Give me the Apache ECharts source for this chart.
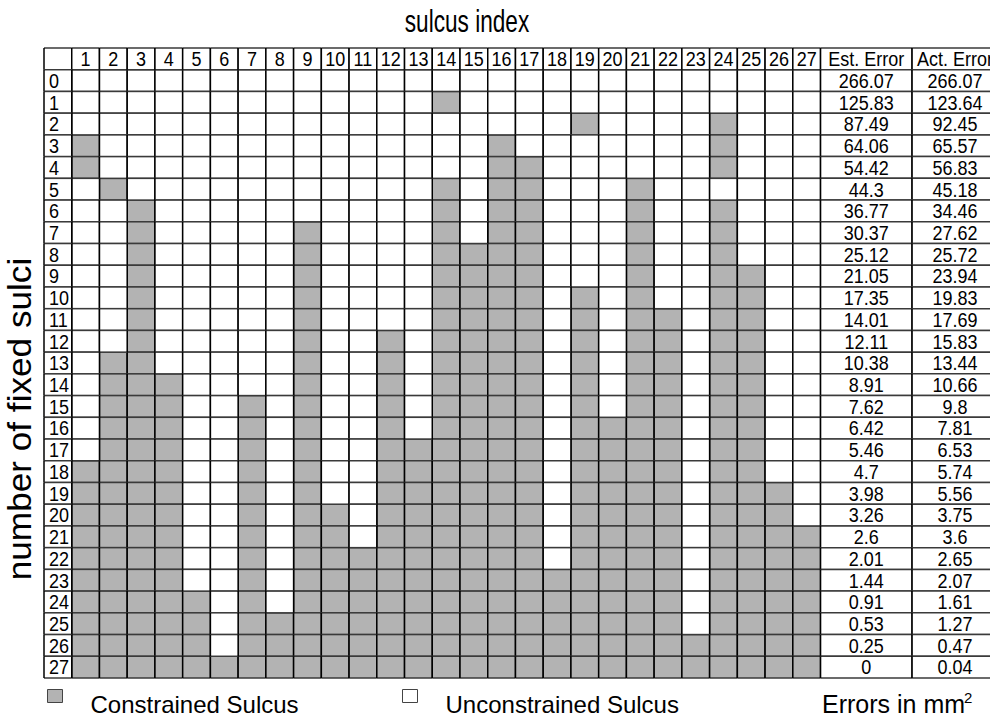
<!DOCTYPE html>
<html>
<head>
<meta charset="utf-8">
<script src="https://cdn.jsdelivr.net/npm/echarts@6/dist/echarts.min.js"></script>
<style>
html,body{margin:0;padding:0;background:#fff;}
#chart{width:990px;height:717px;}
</style>
</head>
<body>
<div id="chart"></div>
<script>
// ---------------- data ----------------
const sulcusLabels = ['1','2','3','4','5','6','7','8','9','10','11','12','13','14','15','16','17','18','19','20','21','22','23','24','25','26','27'];
const rowLabels = ['0','1','2','3','4','5','6','7','8','9','10','11','12','13','14','15','16','17','18','19','20','21','22','23','24','25','26','27'];
const errorHeaders = ['Est. Error', 'Act. Error'];
const estError = [266.07, 125.83, 87.49, 64.06, 54.42, 44.3, 36.77, 30.37, 25.12, 21.05, 17.35, 14.01, 12.11, 10.38, 8.91, 7.62, 6.42, 5.46, 4.7, 3.98, 3.26, 2.6, 2.01, 1.44, 0.91, 0.53, 0.25, 0];
const actError = [266.07, 123.64, 92.45, 65.57, 56.83, 45.18, 34.46, 27.62, 25.72, 23.94, 19.83, 17.69, 15.83, 13.44, 10.66, 9.8, 7.81, 6.53, 5.74, 5.56, 3.75, 3.6, 2.65, 2.07, 1.61, 1.27, 0.47, 0.04];
// constrained (fixed) sulci for each row (number of fixed sulci)
const constrainedByRow = [
  [],
  [14],
  [19,24],
  [1,16,24],
  [1,16,17,24],
  [2,14,16,17,21],
  [3,14,16,17,21,24],
  [3,9,14,16,17,21,24],
  [3,9,14,15,16,17,21,24],
  [3,9,14,15,16,17,21,24,25],
  [3,9,14,15,16,17,19,21,24,25],
  [3,9,14,15,16,17,19,21,22,24,25],
  [3,9,12,14,15,16,17,19,21,22,24,25],
  [2,3,9,12,14,15,16,17,19,21,22,24,25],
  [2,3,4,9,12,14,15,16,17,19,21,22,24,25],
  [2,3,4,7,9,12,14,15,16,17,19,21,22,24,25],
  [2,3,4,7,9,12,14,15,16,17,19,20,21,22,24,25],
  [2,3,4,7,9,12,13,14,15,16,17,19,20,21,22,24,25],
  [1,2,3,4,7,9,12,13,14,15,16,17,19,20,21,22,24,25],
  [1,2,3,4,7,9,12,13,14,15,16,17,19,20,21,22,24,25,26],
  [1,2,3,4,7,9,10,12,13,14,15,16,17,19,20,21,22,24,25,26],
  [1,2,3,4,7,9,10,12,13,14,15,16,17,19,20,21,22,24,25,26,27],
  [1,2,3,4,7,9,10,11,12,13,14,15,16,17,19,20,21,22,24,25,26,27],
  [1,2,3,4,7,9,10,11,12,13,14,15,16,17,18,19,20,21,22,24,25,26,27],
  [1,2,3,4,5,7,9,10,11,12,13,14,15,16,17,18,19,20,21,22,24,25,26,27],
  [1,2,3,4,5,7,8,9,10,11,12,13,14,15,16,17,18,19,20,21,22,24,25,26,27],
  [1,2,3,4,5,7,8,9,10,11,12,13,14,15,16,17,18,19,20,21,22,23,24,25,26,27],
  [1,2,3,4,5,6,7,8,9,10,11,12,13,14,15,16,17,18,19,20,21,22,23,24,25,26,27]
];

// ---------------- layout / style ----------------
const FONT = '"Liberation Sans", Arial, Helvetica, sans-serif';
const GRAY = '#b3b3b3';
const H_LINE = '#3a3a3a';
const V_LINE = '#000';
const LW = 1.5;
const CELL_FONT = 18;
const CELL_SCALE_Y = 1.1;
const LABEL_X = [-0.5, 0.5];
const EST_X = [27.5, 30.8];
const ACT_X = [30.8, 33.9];
// legend icon: a square drawn in the upper part of its box (sits above text centre)
const LEGEND_ICON = 'path://M0,0L15,0L15,13L0,13Z M0,30L0.01,30';

// build series data
const constrainedCells = [];
const unconstrainedCells = [];
rowLabels.forEach(function (lab, r) {
  const set = constrainedByRow[r];
  sulcusLabels.forEach(function (s, i) {
    const idx = i + 1;
    (set.indexOf(idx) >= 0 ? constrainedCells : unconstrainedCells).push([idx, r]);
  });
});

const textCells = [];
const textMeta = [];
function addText(x0, x1, y, text, align) {
  textCells.push([x0, x1, y]);
  textMeta.push({ text: text, align: align });
}
addText(LABEL_X[0], LABEL_X[1], -1, '', 'left');
sulcusLabels.forEach(function (s, i) { addText(i + 0.5, i + 1.5, -1, s, 'center'); });
addText(EST_X[0], EST_X[1], -1, errorHeaders[0], 'center');
addText(ACT_X[0], ACT_X[1], -1, errorHeaders[1], 'center');
rowLabels.forEach(function (lab, r) {
  addText(LABEL_X[0], LABEL_X[1], r, lab, 'left');
  addText(EST_X[0], EST_X[1], r, String(estError[r]), 'center');
  addText(ACT_X[0], ACT_X[1], r, String(actError[r]), 'center');
});

function cellGroup(api, x0, x1, y, fill, text, align) {
  const a = api.coord([x0, y - 0.5]);
  const b = api.coord([x1, y + 0.5]);
  const L = Math.min(a[0], b[0]), R = Math.max(a[0], b[0]);
  const T = Math.min(a[1], b[1]), B = Math.max(a[1], b[1]);
  const children = [
    { type: 'rect', shape: { x: L, y: T, width: R - L, height: B - T }, style: { fill: fill } },
    { type: 'line', shape: { x1: L, y1: T, x2: R, y2: T }, style: { stroke: H_LINE, lineWidth: LW } },
    { type: 'line', shape: { x1: L, y1: B, x2: R, y2: B }, style: { stroke: H_LINE, lineWidth: LW } },
    { type: 'line', shape: { x1: L, y1: T, x2: L, y2: B }, style: { stroke: V_LINE, lineWidth: LW } },
    { type: 'line', shape: { x1: R, y1: T, x2: R, y2: B }, style: { stroke: V_LINE, lineWidth: LW } }
  ];
  if (text) {
    children.push({
      type: 'text',
      x: align === 'left' ? L + 5 : (L + R) / 2,
      y: (T + B) / 2 + 0.5,
      scaleY: CELL_SCALE_Y,
      style: {
        text: text,
        x: 0,
        y: 0,
        align: align,
        verticalAlign: 'middle',
        fill: '#000',
        fontSize: CELL_FONT,
        fontFamily: FONT
      }
    });
  }
  return { type: 'group', children: children };
}

const legendCommon = {
  top: 689,
  padding: 0,
  itemWidth: 15,
  itemHeight: 30,
  selectedMode: false,
  textStyle: { fontSize: 24, fontFamily: FONT, color: '#000', padding: [0, 0, 0, 23] }
};

const chart = echarts.init(document.getElementById('chart'), null, { renderer: 'svg' });
chart.setOption({
  animation: false,
  backgroundColor: '#fff',
  grid: { left: 44, right: 0, top: 48, bottom: 39 },
  xAxis: { type: 'value', min: -0.5, max: 33.61, show: false },
  yAxis: { type: 'value', min: -1.5, max: 27.5, inverse: true, show: false },
  legend: [
    Object.assign({}, legendCommon, {
      left: 47,
      data: [{ name: 'Constrained Sulcus', icon: LEGEND_ICON, itemStyle: { color: GRAY, borderColor: '#444', borderWidth: 1 } }]
    }),
    Object.assign({}, legendCommon, {
      left: 402,
      data: [{ name: 'Unconstrained Sulcus', icon: LEGEND_ICON, itemStyle: { color: '#fff', borderColor: '#444', borderWidth: 1 } }]
    })
  ],
  graphic: [
    {
      type: 'text', x: 467, y: 21, scaleX: 0.73,
      style: { text: 'sulcus index', fontSize: 31, fontFamily: FONT, fill: '#000', align: 'center', verticalAlign: 'middle' }
    },
    {
      type: 'text', x: 19, y: 419, rotation: Math.PI / 2, scaleX: 1.066,
      style: { text: 'number of fixed sulci', fontSize: 33, fontFamily: FONT, fill: '#000', align: 'center', verticalAlign: 'middle' }
    },
    {
      type: 'text', left: 822, top: 691,
      style: { text: 'Errors in mm', fontSize: 25, fontFamily: FONT, fill: '#000' }
    },
    {
      type: 'text', left: 964, top: 690,
      style: { text: '2', fontSize: 15, fontFamily: FONT, fill: '#000' }
    }
  ],
  series: [
    {
      name: 'Constrained Sulcus',
      type: 'custom',
      itemStyle: { color: GRAY },
      encode: { x: 0, y: 1 },
      data: constrainedCells,
      renderItem: function (params, api) {
        const x = api.value(0), y = api.value(1);
        return cellGroup(api, x - 0.5, x + 0.5, y, GRAY, '', 'center');
      }
    },
    {
      name: 'Unconstrained Sulcus',
      type: 'custom',
      itemStyle: { color: '#fff' },
      encode: { x: 0, y: 1 },
      data: unconstrainedCells,
      renderItem: function (params, api) {
        const x = api.value(0), y = api.value(1);
        return cellGroup(api, x - 0.5, x + 0.5, y, '#fff', '', 'center');
      }
    },
    {
      name: 'table',
      type: 'custom',
      encode: { x: [0, 1], y: 2 },
      data: textCells,
      renderItem: function (params, api) {
        const m = textMeta[params.dataIndex];
        return cellGroup(api, api.value(0), api.value(1), api.value(2), '#fff', m.text, m.align);
      }
    }
  ]
});
</script>
</body>
</html>
